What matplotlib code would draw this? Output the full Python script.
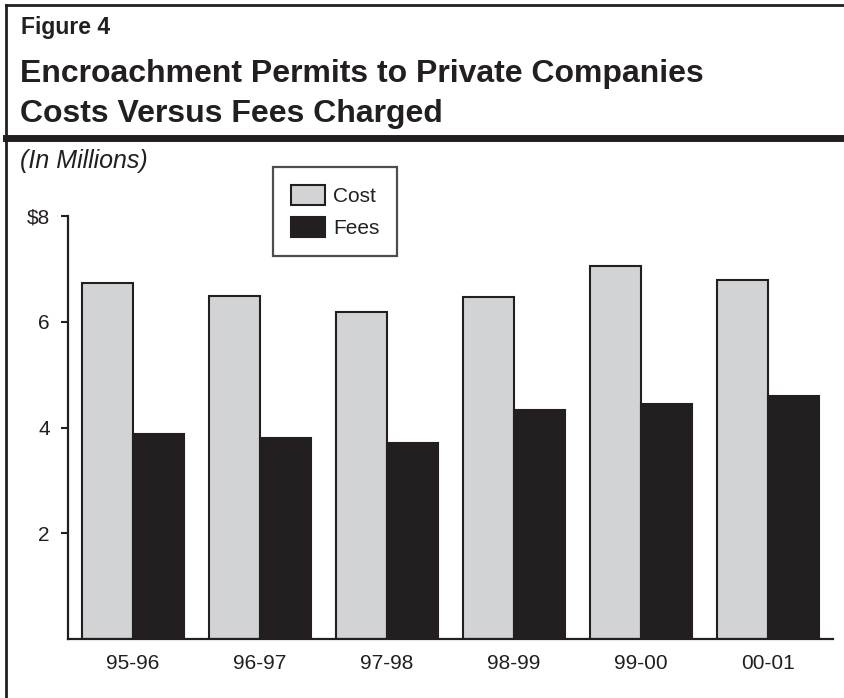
import matplotlib
matplotlib.use('Agg')
import matplotlib.pyplot as plt
import numpy
from matplotlib.lines import Line2D
from matplotlib.patches import Patch

plt.rcParams['font.family'] = ['Liberation Sans', 'DejaVu Sans']

years = ['95-96', '96-97', '97-98', '98-99', '99-00', '00-01']
cost = [6.74, 6.49, 6.19, 6.46, 7.05, 6.79]
fees = [3.87, 3.80, 3.70, 4.34, 4.44, 4.59]
y_ticks = [2, 4, 6, 8]
y_tick_labels = ['2', '4', '6', '$8']

cost_color = '#d1d3d4'
fees_color = '#231f20'
edge = '#231f20'

W, H = 844, 698
fig = plt.figure(figsize=(W / 100, H / 100), dpi=100)


def fx(px):
    return px / W


def fy(py):
    # pixel rows are counted from the top
    return 1 - py / H


# frame: left and top border, thick rule under the title
fig.add_artist(Line2D([fx(6), fx(6)], [0, fy(5)], color=edge, lw=2))
fig.add_artist(Line2D([fx(6), 1], [fy(5), fy(5)], color=edge, lw=2))
fig.add_artist(Line2D([fx(6), 1], [fy(137.5), fy(137.5)], color=edge, lw=5))

fig.text(fx(21), fy(34), 'Figure 4', fontsize=16.5, fontweight='bold', va='baseline', color=edge)
fig.text(fx(20), fy(82), 'Encroachment Permits to Private Companies', fontsize=23,
         fontweight='bold', va='baseline', color=edge)
fig.text(fx(20), fy(122), 'Costs Versus Fees Charged', fontsize=23,
         fontweight='bold', va='baseline', color=edge)
fig.text(fx(20), fy(168), '(In Millions)', fontsize=18, style='italic', va='baseline', color=edge)

ax = fig.add_axes([fx(68), fy(639), fx(833 - 68), (639 - 216) / H])

x = numpy.arange(len(years))
bar_w = 51 / 127
ax.bar(x - bar_w / 2, cost, bar_w, color=cost_color, edgecolor=edge, linewidth=1.5, label='Cost')
ax.bar(x + bar_w / 2, fees, bar_w, color=fees_color, edgecolor=edge, linewidth=1.5, label='Fees')

ax.set_xlim(-0.512, 5.512)
ax.set_ylim(0, 8)
ax.set_yticks(y_ticks)
ax.set_yticklabels(y_tick_labels)
ax.set_xticks(x)
ax.set_xticklabels(years)
ax.tick_params(axis='x', length=0, pad=11, labelsize=15, colors=edge)
ax.tick_params(axis='y', length=5, width=1.5, pad=8, labelsize=15, colors=edge)
for s in ['top', 'right']:
    ax.spines[s].set_visible(False)
for s in ['left', 'bottom']:
    ax.spines[s].set_linewidth(1.6)
    ax.spines[s].set_color(edge)

handles = [Patch(facecolor=cost_color, edgecolor=edge, linewidth=1.5, label='Cost'),
           Patch(facecolor=fees_color, edgecolor=edge, linewidth=1.5, label='Fees')]
leg = fig.legend(handles=handles, loc='upper left', bbox_to_anchor=(fx(273), fy(167)),
                 borderaxespad=0, fontsize=15, frameon=True, fancybox=False,
                 handlelength=1.63, handleheight=1.1, borderpad=0.85, labelspacing=0.55,
                 handletextpad=0.4)
leg.get_frame().set_edgecolor(edge)
leg.get_frame().set_linewidth(1.6)
for t in leg.get_texts():
    t.set_color(edge)

plt.savefig('out.png', dpi=100)
